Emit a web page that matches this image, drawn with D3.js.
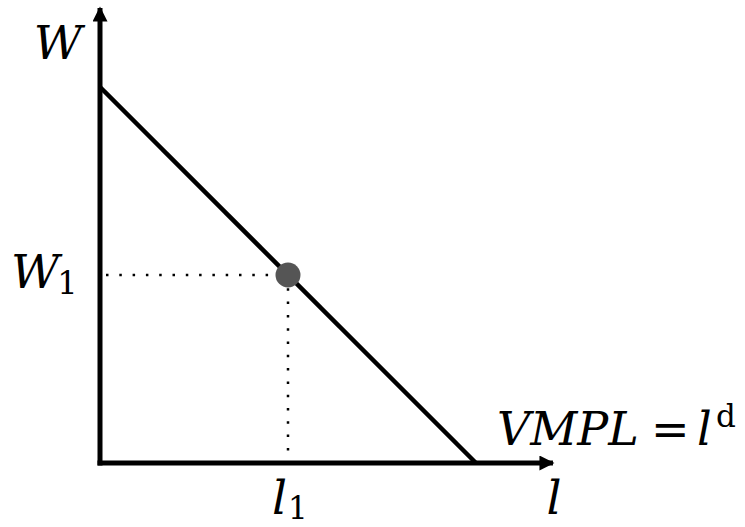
<!DOCTYPE html>
<html>
<head>
<meta charset="utf-8">
<script src="https://cdn.jsdelivr.net/npm/d3@7"></script>
<style>
  body { margin: 0; background: #fff; }
  .lbl { font-family: "DejaVu Serif", serif; font-style: italic; fill: #000; }
  .sub { font-style: normal; }
</style>
</head>
<body>
<div id="chart"></div>
<script>
// demand curve (labour quantity l vs wage W)
var curveL = [0, 10];
var curveW = [10, 0];
var pointL = [5];
var pointW = [5];
var axisMax = [12.1, 12.1];

var imgWidth = 745,
    imgHeight = 527;
var margin = {top: 8, right: 190, bottom: 64, left: 100},
    width = imgWidth - margin.left - margin.right,
    height = imgHeight - margin.top - margin.bottom;

var x = d3.scaleLinear().domain([0, 10]).range([0, 376]),
    y = d3.scaleLinear().domain([0, 10]).range([height, height - 376]);

var svg = d3.select("#chart").append("svg")
    .attr("width", imgWidth)
    .attr("height", imgHeight);

svg.append("defs").append("marker")
    .attr("id", "arrow")
    .attr("viewBox", "0 0 10 10")
    .attr("refX", 9)
    .attr("refY", 5)
    .attr("markerWidth", 3.4)
    .attr("markerHeight", 3)
    .attr("markerUnits", "strokeWidth")
    .attr("orient", "auto")
    .append("path")
    .attr("d", "M0,0 L10,5 L0,10 Z")
    .attr("fill", "#000");

var g = svg.append("g")
    .attr("transform", "translate(" + margin.left + "," + margin.top + ")");

// axes
g.append("line")
    .attr("x1", x(0) - 2.5).attr("y1", y(0))
    .attr("x2", x(axisMax[0]) - 2).attr("y2", y(0))
    .attr("stroke", "#000").attr("stroke-width", 5)
    .attr("marker-end", "url(#arrow)");
g.append("line")
    .attr("x1", x(0)).attr("y1", y(0) + 2.5)
    .attr("x2", x(0)).attr("y2", y(0) - (x(axisMax[1]) - x(0)))
    .attr("stroke", "#000").attr("stroke-width", 5)
    .attr("marker-end", "url(#arrow)");

// dotted guides
var pts = pointL.map(function(d, i) { return {l: d, w: pointW[i]}; });
pts.forEach(function(p) {
  g.append("line")
    .attr("x1", x(0) + 6).attr("y1", y(p.w))
    .attr("x2", x(p.l)).attr("y2", y(p.w))
    .attr("stroke", "#000").attr("stroke-width", 2.5)
    .attr("stroke-dasharray", "2.5,10.8");
  g.append("line")
    .attr("x1", x(p.l)).attr("y1", y(p.w))
    .attr("x2", x(p.l)).attr("y2", y(0) - 6)
    .attr("stroke", "#000").attr("stroke-width", 2.5)
    .attr("stroke-dasharray", "2.5,10.8");
});

// demand line
var line = d3.line()
    .x(function(d) { return x(d.l); })
    .y(function(d) { return y(d.w); });
g.append("path")
    .datum(curveL.map(function(d, i) { return {l: d, w: curveW[i]}; }))
    .attr("d", line)
    .attr("fill", "none")
    .attr("stroke", "#000")
    .attr("stroke-width", 4.5);

g.selectAll(".pt")
    .data(pts)
    .enter().append("circle")
    .attr("class", "pt")
    .attr("cx", function(d) { return x(d.l); })
    .attr("cy", function(d) { return y(d.w); })
    .attr("r", 12.5)
    .attr("fill", "#555");

// labels
svg.append("text").attr("class", "lbl")
    .attr("x", 58).attr("y", 59)
    .attr("text-anchor", "middle")
    .attr("font-size", 47)
    .text("W");

var w1 = svg.append("text").attr("class", "lbl")
    .attr("x", 11).attr("y", 288)
    .attr("font-size", 47);
w1.append("tspan").text("W");
w1.append("tspan").attr("class", "sub").attr("font-size", 32).attr("dx", -2).attr("dy", 6).text("1");

var l1 = svg.append("text").attr("class", "lbl")
    .attr("x", 272).attr("y", 514)
    .attr("font-size", 47);
l1.append("tspan").text("l");
l1.append("tspan").attr("class", "sub").attr("font-size", 31).attr("dx", 1).attr("dy", 5).text("1");

svg.append("text").attr("class", "lbl")
    .attr("x", 554).attr("y", 514)
    .attr("text-anchor", "middle")
    .attr("font-size", 47)
    .text("l");

var vm = svg.append("text").attr("class", "lbl")
    .attr("y", 445)
    .attr("font-size", 46);
vm.append("tspan").attr("x", 497).text("VMPL");
vm.append("tspan").attr("class", "sub").attr("x", 651).text("=");
vm.append("tspan").attr("x", 697).text("l");
vm.append("tspan").attr("class", "sub").attr("font-size", 31).attr("x", 716).attr("dy", -18).text("d");
</script>
</body>
</html>
